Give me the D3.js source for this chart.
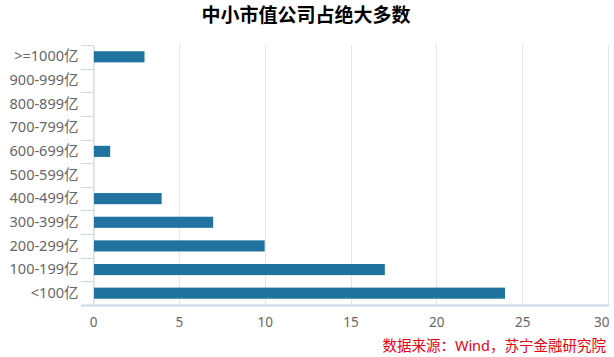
<!DOCTYPE html>
<html><head><meta charset="utf-8">
<script src="https://cdn.jsdelivr.net/npm/d3@7"></script>
<style>body{margin:0;background:#fff}svg{display:block}</style>
</head><body>
<svg id="c" width="614" height="357"></svg>
<script>
const categories = [">=1000亿","900-999亿","800-899亿","700-799亿","600-699亿","500-599亿","400-499亿","300-399亿","200-299亿","100-199亿","<100亿"];
const values = [3,0,0,0,1,0,4,7,10,17,24];
const xTicks = [0,5,10,15,20,25,30];
const title = "中小市值公司占绝大多数";
const source = "数据来源：Wind，苏宁金融研究院";

const svg = d3.select("#c");
const font = "'Noto Sans','Noto Sans CJK SC',sans-serif";
const cjk = "'Noto Sans CJK SC',sans-serif";
const pL = 93, pR = 608, pT = 45, pB = 305;
const x = d3.scaleLinear().domain([0,30]).range([pL,pR]);
const y = d3.scaleBand().domain(categories).range([pT,pB]).paddingInner(0.53).paddingOuter(0.265);
const yb = d3.scaleBand().domain(categories).range([pT,pB]);

// gridlines
svg.append("g").selectAll("line").data(xTicks).join("line")
  .attr("x1",d=>Math.round(x(d))+0.5).attr("x2",d=>Math.round(x(d))+0.5).attr("y1",pT).attr("y2",pB)
  .attr("stroke","#e6e6e6").attr("stroke-width",1);

// y axis
const ya = svg.append("g").attr("transform",`translate(${pL+0.5},0)`)
  .call(d3.axisLeft(yb).tickSize(0).tickPadding(15));
ya.select(".domain").attr("stroke","#ccd6eb");
ya.selectAll("text").attr("fill","#666").attr("font-size","14.5px").attr("font-family",font);
// category boundary ticks
const bounds = categories.map(c=>yb(c)).concat([pB]);
svg.append("g").selectAll("line").data(bounds).join("line")
  .attr("x1",pL-12).attr("x2",pL).attr("y1",d=>Math.round(d)+0.5).attr("y2",d=>Math.round(d)+0.5)
  .attr("stroke","#ccd6eb");

// bars
svg.append("g").selectAll("rect").data(values).join("rect")
  .attr("x",pL+1).attr("y",(d,i)=>y(categories[i]))
  .attr("width",d=>Math.max(0,x(d)-pL-1)).attr("height",y.bandwidth())
  .attr("fill","#21739f");

// x axis
const xa = svg.append("g").attr("transform",`translate(0,${pB+0.5})`)
  .call(d3.axisBottom(x).tickValues(xTicks).tickSize(0).tickPadding(12));
xa.select(".domain").attr("stroke","#ccd6eb").attr("stroke-width",2).attr("d",`M${pL-12},0H${pR+1}`);
xa.selectAll("text").attr("fill","#666").attr("font-size","13.5px").attr("font-family",font);
xa.selectAll(".tick").filter(d=>d===30).select("text").attr("text-anchor","end").attr("dx",1);

// title
svg.append("text").attr("x",306).attr("y",22).attr("text-anchor","middle")
  .attr("font-size","19px").attr("font-weight","bold").attr("fill","#000").attr("font-family",cjk).text(title);
// source
svg.append("text").attr("x",606).attr("y",351).attr("text-anchor","end")
  .attr("font-size","14.5px").attr("fill","#e60012").attr("font-family",font).text(source);
</script>
</body></html>
